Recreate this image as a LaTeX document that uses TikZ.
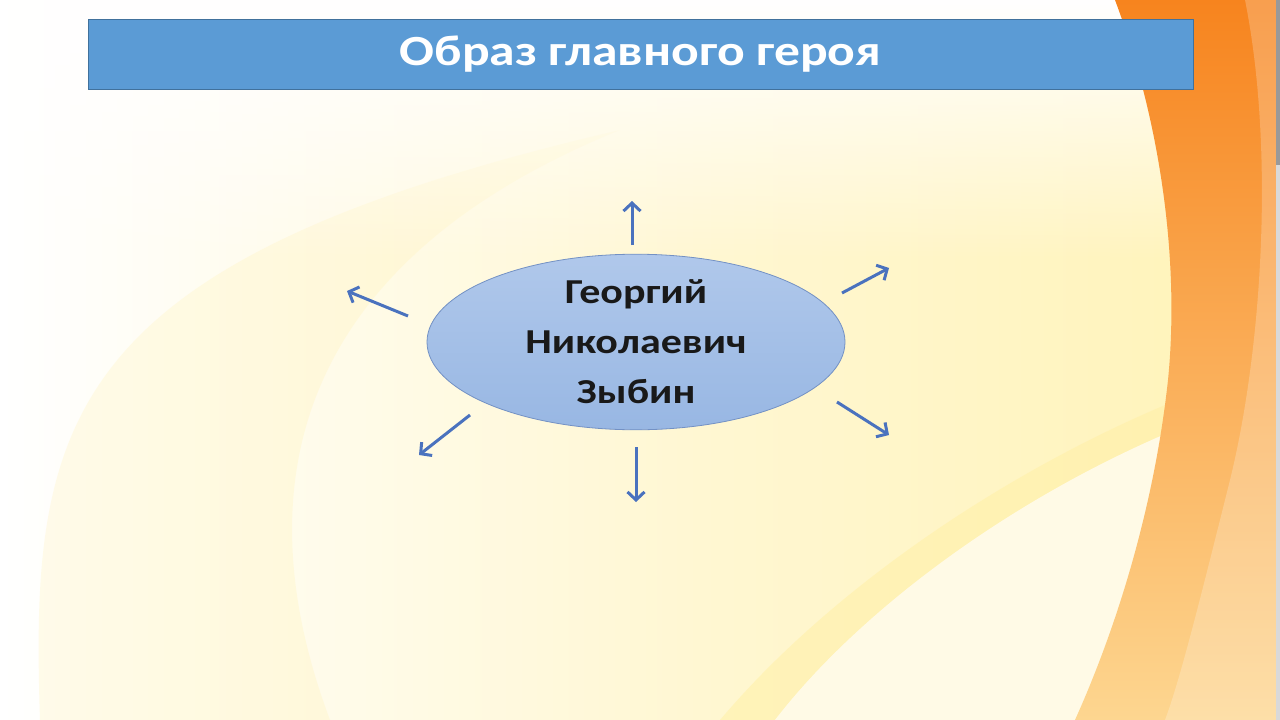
\documentclass[tikz,border=0pt]{standalone}
\usepackage{fontspec}
\setmainfont{Carlito}
\newfontfamily\widefont[FakeStretch=1.2]{Carlito}
\usetikzlibrary{arrows.meta,shapes.geometric,fadings}
\definecolor{titlebg}{HTML}{5B9BD5}
\definecolor{titleline}{HTML}{41719C}
\definecolor{arrowblue}{HTML}{4A72BE}
\definecolor{ellborder}{HTML}{7391C4}
\definecolor{elltop}{HTML}{B0C8EB}
\definecolor{ellbot}{HTML}{98B7E3}
\definecolor{paleyel}{HTML}{FFF7D2}
\definecolor{yel}{HTML}{FFF0A6}
\definecolor{cream}{HTML}{FFFAE6}
\definecolor{orangetop}{HTML}{F7841E}
\definecolor{orangemid}{HTML}{FBA050}
\definecolor{orangebot}{HTML}{FDD690}
\tikzset{
  radial/.style={draw=arrowblue, line width=3pt, -{Straight Barb[length=8pt,width=17pt,line width=3pt]}},
  titlebox/.style={fill=titlebg, draw=titleline, line width=0.8pt, minimum width=1105pt, minimum height=70pt, inner sep=0pt,
    text=white, font=\widefont\bfseries\fontsize{43}{50}\selectfont},
  hero/.style={ellipse, draw=ellborder, line width=0.8pt, top color=elltop, bottom color=ellbot,
    minimum width=418pt, minimum height=156pt, inner sep=0pt, align=center,
    font=\widefont\bfseries\fontsize{35}{50}\selectfont, text=black!90}
}
\begin{document}
\begin{tikzpicture}[x=1pt,y=-1pt]
\useasboundingbox (0,0) rectangle (1280,720);
% ---------- background ----------
\shade[left color=white, right color=paleyel] (0,0) rectangle (700,720);
\shade[left color=paleyel, right color=yel!80] (700,0) rectangle (1280,720);
% faint pale streaks on the left
\fill[yel, opacity=0.22] (40,720) .. controls (30,420) and (60,260) .. (620,130)
  .. controls (300,260) and (240,480) .. (330,720) -- cycle;
\fill[white, path fading=south] (0,0) rectangle (1280,260);
% yellow streak above the cream wedge
\fill[yel, opacity=0.55] (1165,405) .. controls (1000,475) and (830,590) .. (720,720)
  -- (775,720) .. controls (860,610) and (1010,500) .. (1170,432) -- cycle;
% cream wedge bottom right
\fill[cream] (1170,432) .. controls (1010,500) and (860,610) .. (775,720) -- (1100,720) -- cycle;
% orange band
\shade[top color=orangetop, middle color=orangemid, bottom color=orangebot]
  (1115,0) .. controls (1160,120) and (1180,260) .. (1168,380)
  .. controls (1155,500) and (1120,620) .. (1075,720) -- (1276,720) -- (1276,0) -- cycle;
% lighter inner strip of the band
\fill[white, opacity=0.22] (1245,0) .. controls (1275,150) and (1262,350) .. (1230,480)
  .. controls (1200,600) and (1180,680) .. (1165,720) -- (1276,720) -- (1276,0) -- cycle;
% thin scroll strip at the right edge
\fill[black!15] (1276,0) rectangle (1280,720);
\fill[black!40] (1276,0) rectangle (1280,165);
% ---------- title ----------
\node[titlebox] (title) at (640.5,54) {Образ главного героя};
% ---------- centre ----------
\node[hero] (hero) at (636,342) {Георгий\\Николаевич\\Зыбин};
% ---------- arrows ----------
\coordinate (s1) at (632,245); \coordinate (e1) at (632,201);
\coordinate (s2) at (842,293); \coordinate (e2) at (889,268);
\coordinate (s3) at (837,402); \coordinate (e3) at (889,435);
\coordinate (s4) at (636,447); \coordinate (e4) at (636,502);
\coordinate (s5) at (470,415); \coordinate (e5) at (419,455);
\coordinate (s6) at (408,316); \coordinate (e6) at (347,291);
\draw[radial] (s1) -- (e1);
\draw[radial] (s2) -- (e2);
\draw[radial] (s3) -- (e3);
\draw[radial] (s4) -- (e4);
\draw[radial] (s5) -- (e5);
\draw[radial] (s6) -- (e6);
\end{tikzpicture}
\end{document}
